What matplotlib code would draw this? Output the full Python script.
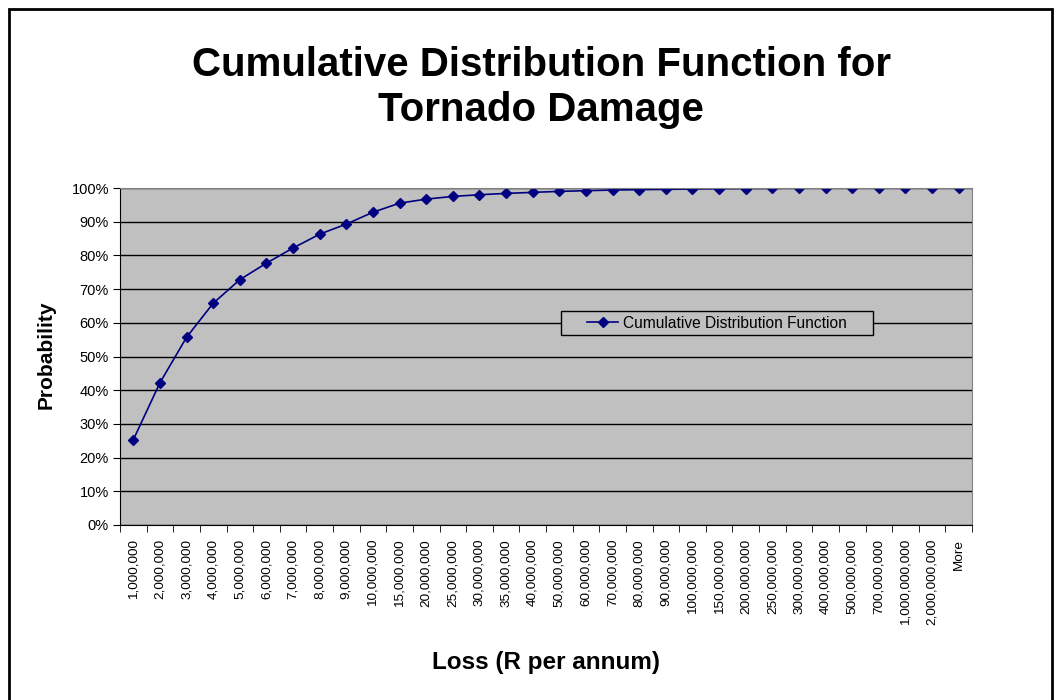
import numpy as np
import matplotlib.pyplot as plt
from matplotlib.patches import Rectangle
from matplotlib.ticker import FixedLocator, PercentFormatter

plt.rcParams['font.family'] = ['Liberation Sans', 'DejaVu Sans']

# Loss bins (R per annum) and cumulative probability (%)
bins = ['1,000,000', '2,000,000', '3,000,000', '4,000,000', '5,000,000',
        '6,000,000', '7,000,000', '8,000,000', '9,000,000', '10,000,000',
        '15,000,000', '20,000,000', '25,000,000', '30,000,000', '35,000,000',
        '40,000,000', '50,000,000', '60,000,000', '70,000,000', '80,000,000',
        '90,000,000', '100,000,000', '150,000,000', '200,000,000', '250,000,000',
        '300,000,000', '400,000,000', '500,000,000', '700,000,000',
        '1,000,000,000', '2,000,000,000', 'More']
cdf = [25.3, 42.2, 55.7, 65.8, 72.8, 77.7, 82.2, 86.3, 89.3, 92.8,
       95.5, 96.7, 97.5, 98.0, 98.4, 98.7, 99.0, 99.2, 99.4, 99.5,
       99.6, 99.7, 99.8, 99.85, 99.9, 99.95, 99.97, 99.98, 99.99, 100.0,
       100.0, 100.0]

W, H = 1061, 700
fig = plt.figure(figsize=(W / 100, H / 100), dpi=100)
ax = fig.add_axes([120 / W, 1 - 525 / H, 852 / W, 337 / H])
ax.set_facecolor('#c0c0c0')

x = np.arange(len(bins))
ax.plot(x, cdf, color='#000080', marker='D', markersize=5.5, linewidth=1.2,
        label='Cumulative Distribution Function')

ax.set_xlim(-0.5, len(bins) - 0.5)
ax.set_ylim(0, 100)
ax.set_yticks(np.arange(0, 101, 10))
ax.yaxis.set_major_formatter(PercentFormatter(decimals=0))
ax.grid(axis='y', color='black', linewidth=1)
ax.set_axisbelow(True)

ax.set_xticks(x)
ax.set_xticklabels(bins, rotation=90, va='top', ha='center')
ax.xaxis.set_minor_locator(FixedLocator(np.arange(-0.5, len(bins), 1)))
ax.tick_params(axis='x', which='major', length=0, pad=10, labelsize=9.7)
ax.tick_params(axis='x', which='minor', length=5, direction='out', color='black')
ax.tick_params(axis='y', length=5, direction='out', labelsize=10.5, pad=3)

for s in ['left', 'bottom']:
    ax.spines[s].set_color('black')
for s in ['top', 'right']:
    ax.spines[s].set_color('#808080')

# legend: box drawn separately to get Excel-like padding
ax.add_patch(Rectangle((561 / W, 1 - 335 / H), 312 / W, 24 / H,
                       transform=fig.transFigure, facecolor='#c0c0c0',
                       edgecolor='black', linewidth=1, zorder=4, clip_on=False))
leg = ax.legend(loc='center left', bbox_to_anchor=((587 - 120) / 852, (525 - 323) / 337),
                fontsize=11.2, frameon=False, borderpad=0, borderaxespad=0,
                handlelength=2.0, handletextpad=0.3)
leg.set_zorder(5)

# axis titles
fig.text(46 / W, 1 - 355 / H, 'Probability', rotation=90, ha='center', va='center',
         fontsize=15, fontweight='bold')
fig.text(546 / W, 1 - 662 / H, 'Loss (R per annum)', ha='center', va='center',
         fontsize=17.5, fontweight='bold')

# chart title, two lines
fig.text(541 / W, 1 - 65 / H, 'Cumulative Distribution Function for',
         ha='center', va='center', fontsize=29, fontweight='bold')
fig.text(541 / W, 1 - 110 / H, 'Tornado Damage',
         ha='center', va='center', fontsize=29, fontweight='bold')

fig.patches.append(Rectangle((9 / W, -0.01), 1043 / W, 1 - 9 / H + 0.01,
                             transform=fig.transFigure, fill=False,
                             edgecolor='black', linewidth=2))

fig.savefig('out.png', dpi=100)
